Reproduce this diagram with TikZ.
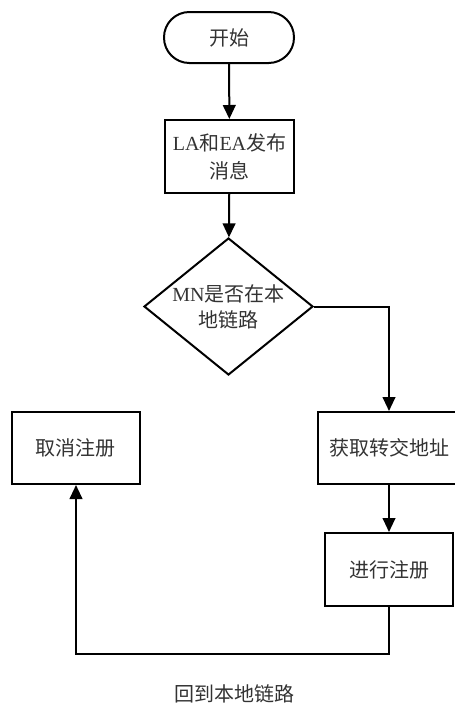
\documentclass[tikz,border=0pt]{standalone}
\usepackage{fontspec}
\setmainfont{Liberation Serif}
\newfontfamily\cjk{Noto Sans CJK SC}
\usetikzlibrary{shapes.geometric,arrows.meta}
\begin{document}
\begin{tikzpicture}[x=0.75pt,y=-0.75pt,
  every node/.style={font=\fontsize{15pt}{21pt}\selectfont, text=black!80},
  box/.style={draw, line width=1.5pt, inner sep=0pt, align=center},
  term/.style={box, rounded corners=19pt},
  decision/.style={diamond, draw, line width=1.5pt, inner sep=0pt, shape aspect=1.23, align=center,
     minimum width=126.75pt, minimum height=102.75pt, font=\fontsize{15pt}{19pt}\selectfont},
  arr/.style={line width=1.5pt, -{Triangle[length=10.5pt,width=9.5pt]}},
  ln/.style={line width=1.5pt}]
\useasboundingbox (0,0) rectangle (454,704);
\node[term, minimum width=97.5pt, minimum height=38.25pt] (start) at (229,37.5) {\cjk 开始};
\node[box, minimum width=96.75pt, minimum height=54.75pt] (la) at (229.5,156.5) {LA{\cjk 和}EA{\cjk 发布}\\{\cjk 消息}};
\node[decision] (dec) at (228.5,306.5) {};
\node (dect) at (228.5,307) [align=center, font=\fontsize{15pt}{19pt}\selectfont] {MN{\cjk 是否在本}\\{\cjk 地链路}};
\node[box, minimum width=106.5pt, minimum height=54pt] (get) at (389,448) {\cjk 获取转交地址};
\node[box, minimum width=96pt, minimum height=54.75pt] (reg) at (389,569.5) {\cjk 进行注册};
\node[box, minimum width=96pt, minimum height=54pt] (cancel) at (76,448) {\cjk 取消注册};
\node (back) at (234,694) {\cjk 回到本地链路};
\coordinate (low) at (230,654);
\draw[arr] (start) -- (la);
\draw[arr] (la) -- (dec);
\draw[arr] (dec.east) -| (get.north);
\draw[arr] (get) -- (reg);
\draw[arr] (reg.south) -- (reg.south |- low) -| (cancel.south);
\end{tikzpicture}
\end{document}
